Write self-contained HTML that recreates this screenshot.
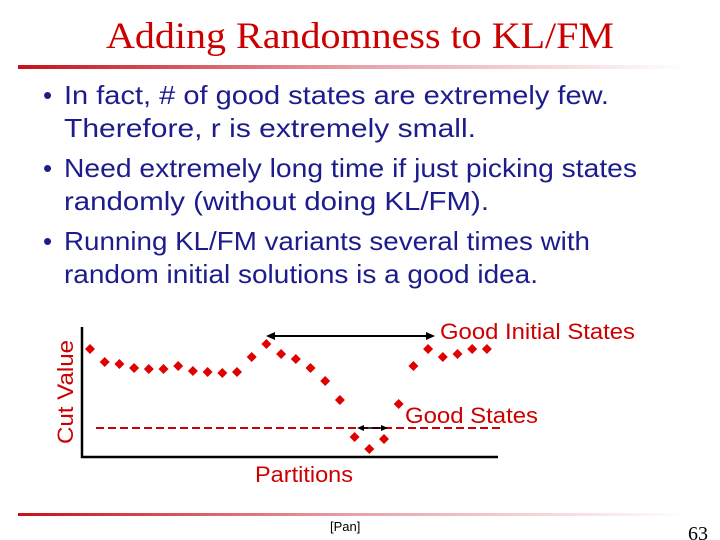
<!DOCTYPE html>
<html><head><meta charset="utf-8"><style>
html,body{margin:0;padding:0;background:#fff;width:720px;height:540px;overflow:hidden}
svg{display:block}
</style></head><body>
<svg width="720" height="540" viewBox="0 0 720 540" xmlns="http://www.w3.org/2000/svg">
<defs>
<linearGradient id="rg" x1="0" x2="1" y1="0" y2="0">
<stop offset="0" stop-color="#c8101a"/><stop offset="0.5" stop-color="#e8a0a8"/><stop offset="1" stop-color="#ffffff"/>
</linearGradient>
</defs>
<text x="360" y="48" text-anchor="middle" font-family="Liberation Serif, serif" font-size="37" fill="#cc0000" textLength="508" lengthAdjust="spacingAndGlyphs">Adding Randomness to KL/FM</text>
<rect x="18" y="65" width="670" height="4" fill="url(#rg)"/>
<g font-family="Liberation Sans, sans-serif" font-size="26" fill="#1c1c8c">
<text x="43" y="104">•</text>
<text x="64" y="104" textLength="545" lengthAdjust="spacingAndGlyphs">In fact, # of good states are extremely few.</text>
<text x="64" y="137" textLength="412" lengthAdjust="spacingAndGlyphs">Therefore, r is extremely small.</text>
<text x="43" y="177">•</text>
<text x="64" y="177" textLength="573" lengthAdjust="spacingAndGlyphs">Need extremely long time if just picking states</text>
<text x="64" y="210" textLength="425" lengthAdjust="spacingAndGlyphs">randomly (without doing KL/FM).</text>
<text x="43" y="250">•</text>
<text x="64" y="250" textLength="526" lengthAdjust="spacingAndGlyphs">Running KL/FM variants several times with</text>
<text x="64" y="283" textLength="474" lengthAdjust="spacingAndGlyphs">random initial solutions is a good idea.</text>
</g>
<g id="chart">
<line x1="82" y1="327" x2="82" y2="458" stroke="#000" stroke-width="2.5"/>
<line x1="81" y1="457" x2="498" y2="457" stroke="#000" stroke-width="2.5"/>
<line x1="96" y1="428" x2="500" y2="428" stroke="#cc0000" stroke-width="2" stroke-dasharray="8,4"/>
<text transform="translate(73,392) rotate(-90)" text-anchor="middle" font-family="Liberation Sans, sans-serif" font-size="22" fill="#cc0000" textLength="104" lengthAdjust="spacingAndGlyphs">Cut Value</text>
<text x="255" y="482" font-family="Liberation Sans, sans-serif" font-size="22" fill="#cc0000" textLength="98" lengthAdjust="spacingAndGlyphs">Partitions</text>
<text x="440" y="339" font-family="Liberation Sans, sans-serif" font-size="22" fill="#cc0000" textLength="195" lengthAdjust="spacingAndGlyphs">Good Initial States</text>
<text x="405" y="423" font-family="Liberation Sans, sans-serif" font-size="22" fill="#cc0000" textLength="133" lengthAdjust="spacingAndGlyphs">Good States</text>
<g>
<line x1="272" y1="336" x2="429" y2="336" stroke="#000" stroke-width="2"/>
<polygon points="266,336 275,332 275,340" fill="#000"/>
<polygon points="435,336 426,332 426,340" fill="#000"/>
</g>
<g>
<line x1="361" y1="428" x2="384" y2="428" stroke="#000" stroke-width="1.5"/>
<polygon points="357,428 364,425 364,431" fill="#000"/>
<polygon points="388,428 381,425 381,431" fill="#000"/>
</g>
<g id="points"></g>
</g>
<text x="330" y="531" font-family="Liberation Sans, sans-serif" font-size="13" fill="#000">[Pan]</text>
<rect x="18" y="513" width="670" height="3" fill="url(#rg)"/>
<text x="698" y="540" text-anchor="middle" font-family="Liberation Serif, serif" font-size="20" fill="#000">63</text>
</svg>
<script>
const partitions = [1,2,3,4,5,6,7,8,9,10,11,12,13,14,15,16,17,18,19,20,21,22,23,24,25,26,27,28];
const cutValues = [111,98,96,92,91,91,94,89,88,87,88,103,116,106,101,92,79,60,23,11,21,56,94,111,103,106,111,111];
function xScale(p){ return 90 + (p - 1) * 14.7; }
function yScale(v){ return 460 - v; }
const g = document.getElementById('points');
const NS = 'http://www.w3.org/2000/svg';
partitions.forEach(function(p, i){
  const cx = xScale(p), cy = yScale(cutValues[i]), r = 5;
  const d = document.createElementNS(NS, 'polygon');
  d.setAttribute('points', cx+','+(cy-r)+' '+(cx+r)+','+cy+' '+cx+','+(cy+r)+' '+(cx-r)+','+cy);
  d.setAttribute('fill', '#e00000');
  
  
  g.appendChild(d);
});
</script>
</body></html>
